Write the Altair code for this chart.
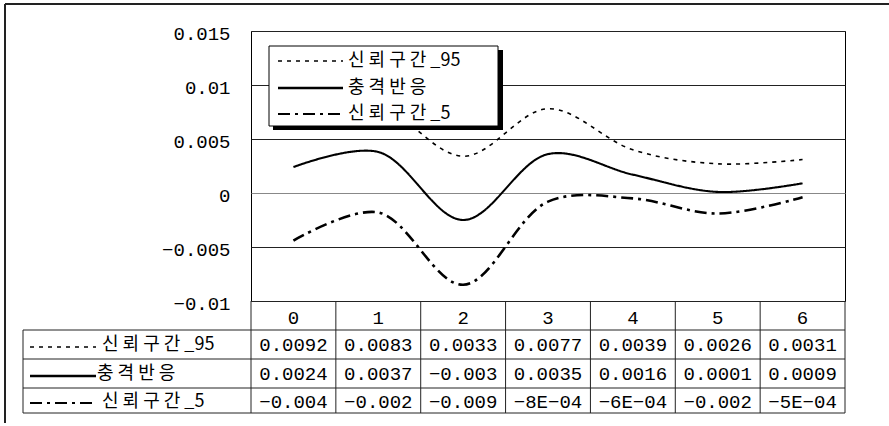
import altair as alt
import pandas as pd

# ---------------- data ----------------
categories = [0, 1, 2, 3, 4, 5, 6]
upper95 = [0.0092, 0.0083, 0.0034, 0.0078, 0.0040, 0.0027, 0.0031]
response = [0.0024, 0.0038, -0.0025, 0.0036, 0.0017, 0.0001, 0.0009]
lower5 = [-0.0044, -0.0018, -0.0085, -0.0008, -0.0005, -0.0019, -0.0004]

upper95_labels = ["0.0092", "0.0083", "0.0033", "0.0077", "0.0039", "0.0026", "0.0031"]
response_labels = ["0.0024", "0.0037", "\u22120.003", "0.0035", "0.0016", "0.0001", "0.0009"]
lower5_labels = ["\u22120.004", "\u22120.002", "\u22120.009", "\u22128E\u221204", "\u22126E\u221204", "\u22120.002", "\u22125E\u221204"]

series_names = ["신 뢰 구 간 _95", "충 격 반 응", "신 뢰 구 간 _5"]
y_ticks = [-0.01, -0.005, 0, 0.005, 0.01, 0.015]

# ---------------- style / layout ----------------
W, H = 594, 270
NUM_FONT = "Liberation Mono"
KR_FONT = "Noto Sans CJK KR"
NUM_SIZE = 19
KR_SIZE = 18
dashes = [[4, 5], [1, 0], [12, 5, 3, 5]]
widths = [1.6, 2.6, 1.8]

series_values = [upper95, response, lower5]
long_rows = []
for name, vals in zip(series_names, series_values):
    for c, v in zip(categories, vals):
        long_rows.append({"cat": c, "value": v, "series": name})
lines_df = pd.DataFrame(long_rows)

xscale = alt.Scale(domain=[-0.5, 6.5], nice=False, zero=False)
one = pd.DataFrame({"k": [0]})

lines = alt.Chart(lines_df).mark_line(interpolate="catmull-rom", color="black").encode(
    x=alt.X("cat:Q", scale=xscale, axis=None),
    y=alt.Y("value:Q",
            scale=alt.Scale(domain=[-0.01, 0.015], nice=False, zero=False),
            axis=alt.Axis(values=y_ticks, format=".3~f", title=None,
                          domain=False, ticks=False, grid=True,
                          gridColor=alt.condition("datum.value == 0", alt.value("#888888"), alt.value("#222222")),
                          gridWidth=1,
                          labelFont=NUM_FONT, labelFontSize=NUM_SIZE, labelColor="black",
                          labelPadding=21, labelOffset=2)),
    detail="series:N",
    strokeDash=alt.StrokeDash("series:N", scale=alt.Scale(domain=series_names, range=dashes), legend=None),
    strokeWidth=alt.StrokeWidth("series:N", scale=alt.Scale(domain=series_names, range=widths), legend=None),
)

layers = [lines]

# ---------------- legend box (top-left inside plot) ----------------
layers.append(alt.Chart(one).mark_rect(color="black").encode(
    x=alt.value(22), x2=alt.value(252), y=alt.value(19), y2=alt.value(99)))
layers.append(alt.Chart(one).mark_rect(fill="white", stroke="black", strokeWidth=1).encode(
    x=alt.value(18), x2=alt.value(247), y=alt.value(15), y2=alt.value(95)))
leg_y = [30, 57, 83]
for i, name in enumerate(series_names):
    layers.append(alt.Chart(one).mark_rule(color="black", strokeDash=dashes[i], strokeWidth=widths[i]).encode(
        x=alt.value(27), x2=alt.value(92), y=alt.value(leg_y[i])))
    layers.append(alt.Chart(pd.DataFrame({"t": [name]})).mark_text(
        align="left", baseline="middle", font=KR_FONT, fontSize=KR_SIZE, color="black").encode(
        x=alt.value(97), y=alt.value(leg_y[i]), text="t:N"))

# ---------------- outer frame ----------------
layers.append(alt.Chart(one).mark_rule(color="#222222", strokeWidth=2).encode(
    x=alt.value(-246), x2=alt.value(660), y=alt.value(-27)))
layers.append(alt.Chart(one).mark_rule(color="#222222", strokeWidth=2).encode(
    x=alt.value(-246), y=alt.value(-27), y2=alt.value(392)))

# ---------------- data table ----------------
TL = -228          # table left edge (px from plot left)
row_lines = [299, 328, 357, 382]
for yy in row_lines:
    layers.append(alt.Chart(one).mark_rule(color="#222222", strokeWidth=1).encode(
        x=alt.value(TL), x2=alt.value(W), y=alt.value(yy)))
layers.append(alt.Chart(one).mark_rule(color="#222222", strokeWidth=1).encode(
    x=alt.value(TL), y=alt.value(row_lines[0]), y2=alt.value(row_lines[-1])))

edges_df = pd.DataFrame({"edge": [c - 0.5 for c in categories] + [categories[-1] + 0.5]})
layers.append(alt.Chart(edges_df).mark_rule(color="#222222", strokeWidth=1).encode(
    x=alt.X("edge:Q", scale=xscale, axis=None), y=alt.value(H), y2=alt.value(row_lines[-1])))

header_df = pd.DataFrame({"cat": categories, "t": [str(c) for c in categories]})
layers.append(alt.Chart(header_df).mark_text(
    align="center", baseline="middle", font=NUM_FONT, fontSize=NUM_SIZE, color="black").encode(
    x=alt.X("cat:Q", scale=xscale, axis=None), y=alt.value(287), text="t:N"))

row_text_y = [314, 343, 371]
row_key_y = [316, 345, 372]
row_text_x = [-149, -154, -149]
for i, labs in enumerate([upper95_labels, response_labels, lower5_labels]):
    df = pd.DataFrame({"cat": categories, "t": labs})
    layers.append(alt.Chart(df).mark_text(
        align="center", baseline="middle", font=NUM_FONT, fontSize=NUM_SIZE, color="black").encode(
        x=alt.X("cat:Q", scale=xscale, axis=None), y=alt.value(row_text_y[i]), text="t:N"))
    layers.append(alt.Chart(one).mark_rule(color="black", strokeDash=dashes[i], strokeWidth=widths[i]).encode(
        x=alt.value(-221), x2=alt.value(-155), y=alt.value(row_key_y[i])))
    layers.append(alt.Chart(pd.DataFrame({"t": [series_names[i]]})).mark_text(
        align="left", baseline="middle", font=KR_FONT, fontSize=KR_SIZE, color="black").encode(
        x=alt.value(row_text_x[i]), y=alt.value(row_text_y[i]), text="t:N"))

chart = alt.layer(*layers).properties(
    width=W, height=H,
    padding={"left": 251, "top": 31, "right": 44, "bottom": 125},
    autosize=alt.AutoSizeParams(type="none"),
    background="white",
).configure_view(stroke="black", strokeWidth=1)

chart.save("out.html", embed_options={"renderer": "svg", "actions": False})
